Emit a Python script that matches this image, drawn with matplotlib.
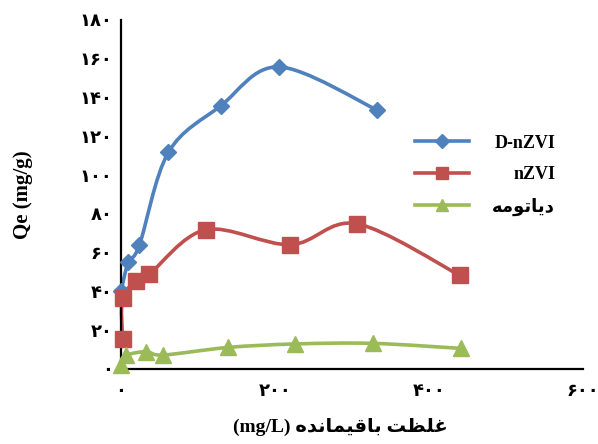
import matplotlib
matplotlib.use('Agg')
import matplotlib.pyplot as plt
from matplotlib.path import Path
from matplotlib.patches import PathPatch
from matplotlib.lines import Line2D
import numpy as np

# values
dnzvi_x = [0, 9.5, 24, 61.5, 129.5, 205, 333]
dnzvi_y = [40, 55, 64, 111.7, 135.7, 155.8, 133.5]

nzvi_x = [2, 2, 20, 37, 110, 220, 306, 440]
nzvi_y = [15.4, 36.5, 45.5, 49, 71.8, 64.1, 74.9, 48.3]

diat_x = [0, 7, 33, 55, 139, 226, 327, 442]
diat_y = [2, 7, 8.9, 7.2, 11.1, 12.9, 13.2, 10.6]

series_names = ['D-nZVI', 'nZVI', 'دیاتومه']
x_ticks = [0, 200, 400, 600]
y_ticks = [0, 20, 40, 60, 80, 100, 120, 140, 160, 180]
x_label = 'غلظت باقیمانده (mg/L)'
y_label = 'Qe (mg/g)'

# matplotlib does no arabic shaping, so pick presentation forms by hand
FORMS = {
    'ا': ('\uFE8D', '\uFE8E', None, None),
    'ب': ('\uFE8F', '\uFE90', '\uFE91', '\uFE92'),
    'ت': ('\uFE95', '\uFE96', '\uFE97', '\uFE98'),
    'د': ('\uFEA9', '\uFEAA', None, None),
    'ظ': ('\uFEC5', '\uFEC6', '\uFEC7', '\uFEC8'),
    'غ': ('\uFECD', '\uFECE', '\uFECF', '\uFED0'),
    'ق': ('\uFED5', '\uFED6', '\uFED7', '\uFED8'),
    'ل': ('\uFEDD', '\uFEDE', '\uFEDF', '\uFEE0'),
    'م': ('\uFEE1', '\uFEE2', '\uFEE3', '\uFEE4'),
    'ن': ('\uFEE5', '\uFEE6', '\uFEE7', '\uFEE8'),
    'ه': ('\uFEE9', '\uFEEA', '\uFEEB', '\uFEEC'),
    'و': ('\uFEED', '\uFEEE', None, None),
    'ی': ('\uFBFC', '\uFBFD', '\uFBFE', '\uFBFF'),
}


def shape_word(word):
    out = []
    for i, ch in enumerate(word):
        iso, fin, ini, med = FORMS[ch]
        joins_prev = i > 0 and FORMS[word[i - 1]][2] is not None
        joins_next = ini is not None and i < len(word) - 1
        if joins_prev and joins_next:
            out.append(med)
        elif joins_prev:
            out.append(fin)
        elif joins_next:
            out.append(ini)
        else:
            out.append(iso)
    return ''.join(reversed(out))


def rtl(text):
    parts = text.split(' ')
    return ' '.join(shape_word(p) if p[0] in FORMS else p for p in reversed(parts))


def fa_num(v):
    return str(v).translate(str.maketrans('0123456789', '۰۱۲۳۴۵۶۷۸۹'))


def smooth_path(xs, ys):
    # catmull-rom as bezier, close to excel's smoothed lines
    pts = np.column_stack([xs, ys]).astype(float)
    n = len(pts)
    verts = [pts[0]]
    codes = [Path.MOVETO]
    for i in range(n - 1):
        p0 = pts[max(i - 1, 0)]
        p1 = pts[i]
        p2 = pts[i + 1]
        p3 = pts[min(i + 2, n - 1)]
        verts += [p1 + (p2 - p0) / 6, p2 - (p3 - p1) / 6, p2]
        codes += [Path.CURVE4] * 3
    return Path(verts, codes)


plt.rcParams['font.family'] = ['Liberation Serif', 'DejaVu Sans']
plt.rcParams['font.weight'] = 'bold'

fig = plt.figure(figsize=(5.98, 4.44), dpi=100)
ax = fig.add_axes([0.2023, 0.169, 0.7727, 0.786])

colors = ['#4F81BD', '#C0504D', '#9BBB59']
markers = ['D', 's', '^']
msizes = [8.5, 11, 11]
series = [(dnzvi_x, dnzvi_y), (nzvi_x, nzvi_y), (diat_x, diat_y)]

handles = []
for (xs, ys), c, m, ms, name in zip(series, colors, markers, msizes, series_names):
    ax.add_patch(PathPatch(smooth_path(xs, ys), fill=False, edgecolor=c,
                           lw=2.6, capstyle='round', clip_on=False))
    ax.plot(xs, ys, ls='none', marker=m, ms=ms, color=c, clip_on=False, zorder=3)
    handles.append(Line2D([], [], color=c, lw=2.6, marker=m, ms=ms * 0.8))

ax.set_xlim(0, 600)
ax.set_ylim(0, 180)
ax.set_xticks(x_ticks)
ax.set_xticklabels([fa_num(v) for v in x_ticks])
ax.set_yticks(y_ticks)
ax.set_yticklabels([fa_num(v) for v in y_ticks])
ax.tick_params(length=0, labelsize=13)
ax.tick_params(axis='x', pad=10)
ax.tick_params(axis='y', pad=6)

for s in ['top', 'right']:
    ax.spines[s].set_visible(False)
for s in ['left', 'bottom']:
    ax.spines[s].set_linewidth(1.6)
    ax.spines[s].set_color('black')

ax.set_xlabel(rtl(x_label), fontsize=14, fontweight='bold')
ax.xaxis.set_label_coords(0.474, -0.14)
ax.set_ylabel(y_label, fontsize=15, fontweight='bold')
ax.yaxis.set_label_coords(-0.19, 0.5)

leg = ax.legend(handles=handles, labels=[rtl(n) if n[0] in FORMS else n for n in series_names],
                loc='center left', bbox_to_anchor=(0.62, 0.555), frameon=False,
                fontsize=13, handlelength=3.0, handletextpad=1.3, labelspacing=0.8,
                borderaxespad=0)
# right-align the legend labels
fig.canvas.draw()
renderer = fig.canvas.get_renderer()
widths = [t.get_window_extent(renderer).width for t in leg.get_texts()]
for t, w in zip(leg.get_texts(), widths):
    t.set_position((max(widths) - w, 0))

plt.savefig('out.png', dpi=100)
